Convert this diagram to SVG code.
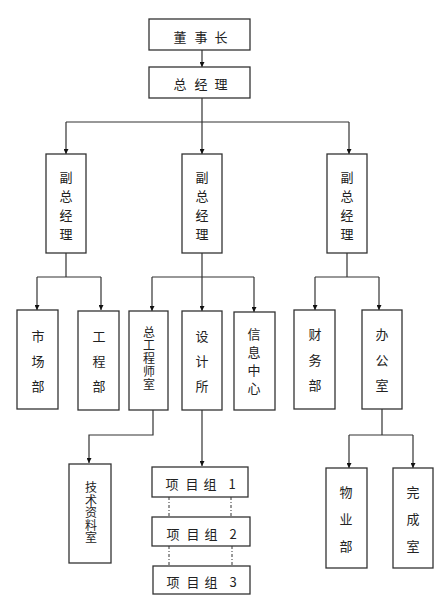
<svg xmlns="http://www.w3.org/2000/svg" width="448" height="607" viewBox="0 0 448 607">
<style>
.b{fill:#fff;stroke:#333;stroke-width:1.3}
text{font-family:"Noto Sans CJK SC","Liberation Serif",serif;font-size:13px;fill:#222;text-anchor:middle;dominant-baseline:central}
text.v{font-size:12px;writing-mode:vertical-rl;dominant-baseline:auto}
.c{fill:none;stroke:#333;stroke-width:1.2}
.d{fill:none;stroke:#333;stroke-width:1;stroke-dasharray:3 2 1 2}
</style>
<defs>
<marker id="a" viewBox="0 0 10 10" refX="10" refY="5" markerWidth="5" markerHeight="5" orient="auto" markerUnits="userSpaceOnUse">
<path d="M0,0L10,5L0,10z" fill="#111"/>
</marker>
</defs>
<rect width="448" height="607" fill="#fff"/>
<g id="connectors">
<path class="c" d="M202,50V67" marker-end="url(#a)"/>
<path class="c" d="M202,98V122M66,122H349"/>
<path class="c" d="M66,122V154" marker-end="url(#a)"/>
<path class="c" d="M202,122V154" marker-end="url(#a)"/>
<path class="c" d="M349,122V154" marker-end="url(#a)"/>
<path class="c" d="M66,253V277M37,277H101M152,277H254M202,253V277M347,253V277M315,277H379"/>
<path class="c" d="M37,277V310" marker-end="url(#a)"/>
<path class="c" d="M101,277V310" marker-end="url(#a)"/>
<path class="c" d="M152,277V311" marker-end="url(#a)"/>
<path class="c" d="M202,277V311" marker-end="url(#a)"/>
<path class="c" d="M254,277V312" marker-end="url(#a)"/>
<path class="c" d="M315,277V310" marker-end="url(#a)"/>
<path class="c" d="M379,277V310" marker-end="url(#a)"/>
<path class="c" d="M153,410V435H89V463" marker-end="url(#a)"/>
<path class="c" d="M202,410V466" marker-end="url(#a)"/>
<path class="c" d="M382,409V435M349,435H413"/>
<path class="c" d="M349,435V468" marker-end="url(#a)"/>
<path class="c" d="M413,435V468" marker-end="url(#a)"/>
<path class="d" d="M169,497V517M231,497V517M169,546V566M232,546V566"/>
</g>
<g id="dongshizhang"><rect class="b" x="149" y="19" width="101" height="31"/><text y="36"><tspan x="180">董</tspan><tspan x="201">事</tspan><tspan x="221">长</tspan></text></g>
<g id="zongjingli"><rect class="b" x="149" y="67" width="101" height="31"/><text y="83"><tspan x="180">总</tspan><tspan x="201">经</tspan><tspan x="221">理</tspan></text></g>
<g id="fuzong1"><rect class="b" x="46" y="154" width="40" height="99"/><text><tspan x="66" y="176">副</tspan><tspan x="66" y="195">总</tspan><tspan x="66" y="214">经</tspan><tspan x="66" y="233">理</tspan></text></g>
<g id="fuzong2"><rect class="b" x="182" y="154" width="40" height="99"/><text><tspan x="202" y="176">副</tspan><tspan x="202" y="195">总</tspan><tspan x="202" y="214">经</tspan><tspan x="202" y="233">理</tspan></text></g>
<g id="fuzong3"><rect class="b" x="327" y="154" width="40" height="99"/><text><tspan x="347" y="176">副</tspan><tspan x="347" y="195">总</tspan><tspan x="347" y="214">经</tspan><tspan x="347" y="233">理</tspan></text></g>
<g id="shichangbu"><rect class="b" x="17" y="310" width="41" height="99"/><text><tspan x="38" y="335">市</tspan><tspan x="38" y="360">场</tspan><tspan x="38" y="385">部</tspan></text></g>
<g id="gongchengbu"><rect class="b" x="78" y="311" width="41" height="99"/><text><tspan x="99" y="335">工</tspan><tspan x="99" y="360">程</tspan><tspan x="99" y="385">部</tspan></text></g>
<g id="zonggongshi"><rect class="b" x="129" y="311" width="39" height="99"/><text class="v" x="149" y="359" style="letter-spacing:1px">总工程师室</text></g>
<g id="shejisuo"><rect class="b" x="182" y="311" width="40" height="99"/><text><tspan x="202" y="335">设</tspan><tspan x="202" y="360">计</tspan><tspan x="202" y="385">所</tspan></text></g>
<g id="xinxi"><rect class="b" x="234" y="312" width="41" height="98"/><text><tspan x="254" y="333">信</tspan><tspan x="254" y="351">息</tspan><tspan x="254" y="369">中</tspan><tspan x="254" y="387">心</tspan></text></g>
<g id="caiwu"><rect class="b" x="294" y="310" width="41" height="99"/><text><tspan x="315" y="333">财</tspan><tspan x="315" y="359">务</tspan><tspan x="315" y="384">部</tspan></text></g>
<g id="bangong"><rect class="b" x="362" y="310" width="40" height="99"/><text><tspan x="382" y="333">办</tspan><tspan x="382" y="359">公</tspan><tspan x="382" y="384">室</tspan></text></g>
<g id="jishuziliao"><rect class="b" x="69" y="464" width="42" height="99"/><text class="v" x="91" y="513" style="letter-spacing:0.5px">技术资料室</text></g>
<g id="xiangmu1"><rect class="b" x="152" y="467" width="96" height="30"/><text y="483"><tspan x="172">项</tspan><tspan x="192">目</tspan><tspan x="210">组</tspan><tspan x="232">1</tspan></text></g>
<g id="xiangmu2"><rect class="b" x="152" y="517" width="98" height="29"/><text y="533"><tspan x="173">项</tspan><tspan x="193">目</tspan><tspan x="211">组</tspan><tspan x="233">2</tspan></text></g>
<g id="xiangmu3"><rect class="b" x="153" y="566" width="97" height="28"/><text y="581"><tspan x="173">项</tspan><tspan x="193">目</tspan><tspan x="211">组</tspan><tspan x="233">3</tspan></text></g>
<g id="wuye"><rect class="b" x="326" y="468" width="41" height="100"/><text><tspan x="346" y="491">物</tspan><tspan x="346" y="518">业</tspan><tspan x="346" y="545">部</tspan></text></g>
<g id="wancheng"><rect class="b" x="393" y="468" width="40" height="100"/><text><tspan x="413" y="491">完</tspan><tspan x="413" y="518">成</tspan><tspan x="413" y="545">室</tspan></text></g>
</svg>
